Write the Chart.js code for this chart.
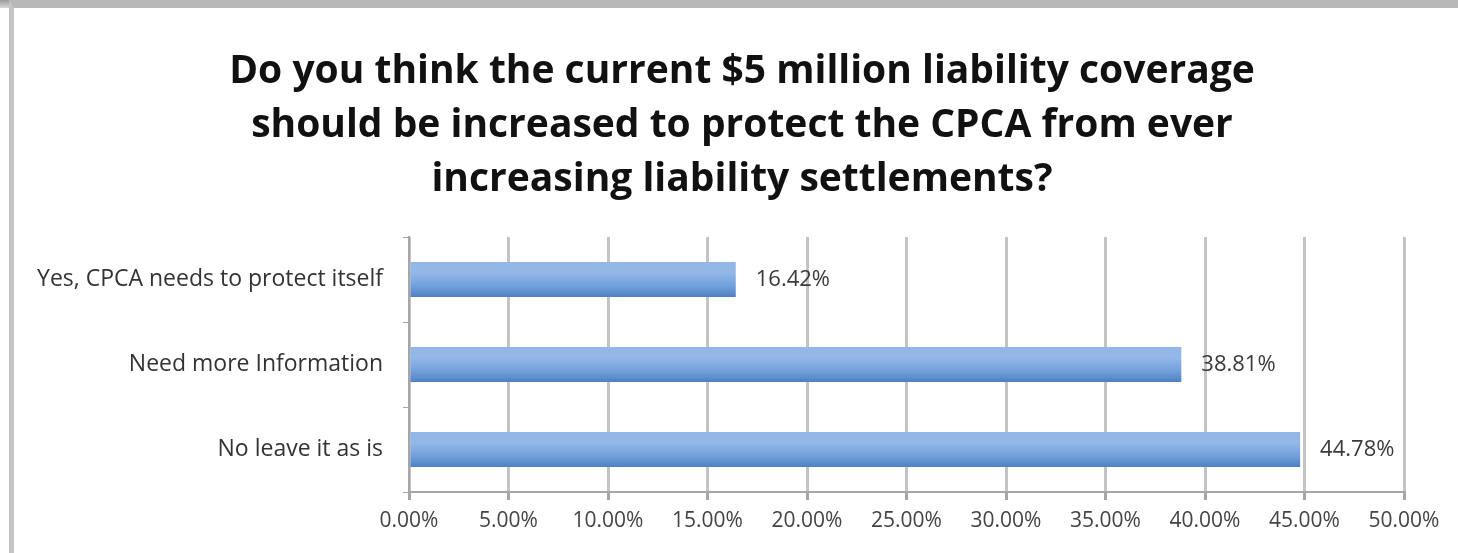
<!DOCTYPE html>
<html>
<head>
<meta charset="utf-8">
<script src="https://cdn.jsdelivr.net/npm/chart.js@4.4.1/dist/chart.umd.min.js"></script>
<style>
    body { margin: 0; background: #ffffff; }
    #frame {
        position: absolute; left: 9px; top: 0;
        width: 1449px; height: 553px;
        box-sizing: border-box;
        border-left: 5px solid #c4c4c4;
        border-top: 8px solid #b8b8b8;
        background: #ffffff;
    }
    #topbar {
        position: absolute; left: 0; top: 0; width: 1458px; height: 8px;
        background: linear-gradient(#9a9a9a, #d8d8d8);
    }
</style>
</head>
<body>
<div id="topbar"></div>
<div id="frame">
    <canvas id="chart" width="1444" height="545"></canvas>
</div>
<script>
// survey answers and their shares (percent)
const categories = ['Yes, CPCA needs to protect itself', 'Need more Information', 'No leave it as is'];
const shares = [16.42, 38.81, 44.78];
const xTicks = [0, 5, 10, 15, 20, 25, 30, 35, 40, 45, 50];
const titleLines = [
    'Do you think the current $5 million liability coverage',
    'should be increased to protect the CPCA from ever',
    'increasing liability settlements?'
];

const FONT = "'Open Sans', 'DejaVu Sans', sans-serif";

// vertical gradient for each bar, like the old Excel look
function barFill(ctx) {
    const chart = ctx.chart;
    const y = chart.scales.y;
    if (!chart.chartArea || !y) return '#6f9fda';
    const mid = y.getPixelForValue(ctx.dataIndex);
    const half = 17;
    const g = chart.ctx.createLinearGradient(0, mid - half, 0, mid + half);
    g.addColorStop(0, '#93b7e5');
    g.addColorStop(0.3, '#92b8e9');
    g.addColorStop(0.7, '#719fdb');
    g.addColorStop(1, '#4f82c4');
    return g;
}

// value labels to the right of the bars
const valueLabels = {
    id: 'valueLabels',
    afterDatasetsDraw(chart) {
        const c = chart.ctx;
        const meta = chart.getDatasetMeta(0);
        c.save();
        c.font = '22px ' + FONT;
        c.fillStyle = '#3a3a3a';
        c.textBaseline = 'middle';
        meta.data.forEach((bar, i) => {
            c.fillText(shares[i].toFixed(2) + '%', bar.x + 20, bar.y);
        });
        c.restore();
    }
};

// title sits a little right of the canvas middle in the original
const shiftTitle = {
    id: 'shiftTitle',
    afterLayout(chart) {
        const t = chart.titleBlock;
        if (t) { t.left += 27; t.right += 27; }
    }
};

const chart = new Chart(document.getElementById('chart'), {
    type: 'bar',
    data: {
        labels: categories,
        datasets: [{
            data: shares,
            backgroundColor: barFill,
            borderWidth: 0,
            barPercentage: 0.41,
            categoryPercentage: 1.0
        }]
    },
    plugins: [valueLabels, shiftTitle],
    options: {
        indexAxis: 'y',
        responsive: false,
        animation: false,
        layout: { padding: { left: 12, right: 54, top: 0, bottom: 0 } },
        plugins: {
            legend: { display: false },
            tooltip: { enabled: false },
            title: {
                display: true,
                text: titleLines,
                color: '#111111',
                font: { family: FONT, size: 39, weight: 'bold', lineHeight: 1.385 },
                padding: { top: 37, bottom: 30 }
            }
        },
        scales: {
            x: {
                min: 0,
                max: 50,
                afterBuildTicks(scale) {
                    scale.ticks = xTicks.map(v => ({ value: v }));
                },
                afterFit(scale) { scale.height = 61; },
                border: { display: true, color: '#a6a6a6', width: 2 },
                grid: {
                    color: '#c4c4c4',
                    lineWidth: 3,
                    tickLength: 8,
                    tickColor: '#a6a6a6'
                },
                ticks: {
                    color: '#444444',
                    font: { family: FONT, size: 21 },
                    padding: 8,
                    maxRotation: 0,
                    autoSkip: false,
                    callback: v => Number(v).toFixed(2) + '%'
                }
            },
            y: {
                afterFit(scale) { scale.width = 383; },
                border: { display: true, color: '#a6a6a6', width: 2 },
                grid: {
                    drawOnChartArea: false,
                    offset: true,
                    tickLength: 6,
                    tickColor: '#a6a6a6'
                },
                ticks: {
                    color: '#333333',
                    font: { family: FONT, size: 23 },
                    padding: 20
                }
            }
        }
    }
});
</script>
</body>
</html>
